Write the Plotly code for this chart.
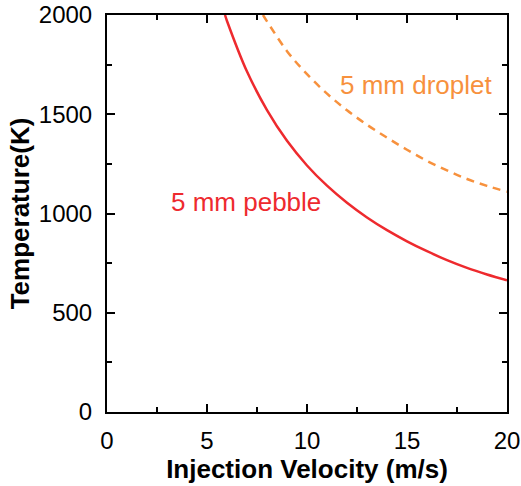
import plotly.graph_objects as go

# values
pebble_v = [5.9, 6, 7, 8, 9, 10, 11, 12, 13, 14, 15, 16, 17, 18, 19, 20]
pebble_T = [2000, 1970, 1715, 1521, 1366, 1242, 1140, 1054, 980, 916, 860, 810, 765, 726, 693, 664]

droplet_v = [7.8, 8, 9, 10, 11, 12, 13, 14, 15, 16, 17, 18, 19, 20]
droplet_T = [2000, 1968, 1818, 1702, 1604, 1520, 1447, 1382, 1321, 1265, 1217, 1174, 1139, 1110]

x_ticks = [0, 5, 10, 15, 20]
y_ticks = [0, 500, 1000, 1500, 2000]

red = '#EE2A2E'
orange = '#F7913D'
font = 'Liberation Sans'

fig = go.Figure()

# pebble curve
fig.add_trace(go.Scatter(x=pebble_v, y=pebble_T, mode='lines',
                         line=dict(color=red, width=2.5, shape='spline'),
                         showlegend=False, hoverinfo='skip'))

# droplet curve (dashed)
fig.add_trace(go.Scatter(x=droplet_v, y=droplet_T, mode='lines',
                         line=dict(color=orange, width=2.5, dash='8px,6px', shape='spline'),
                         showlegend=False, hoverinfo='skip'))

# curve labels
fig.add_annotation(x=6.95, y=1060, text='5 mm pebble', showarrow=False,
                   font=dict(family=font, size=26, color=red))
fig.add_annotation(x=15.45, y=1645, text='5 mm droplet', showarrow=False,
                   font=dict(family=font, size=26, color=orange))

axis_common = dict(
    showline=True, linecolor='black', linewidth=2, mirror='ticks',
    ticks='inside', ticklen=8, tickwidth=2, tickcolor='black',
    showgrid=False, zeroline=False, automargin=False,
    tickfont=dict(family=font, size=24, color='black'),
)

fig.update_xaxes(range=[0, 20], tickvals=x_ticks, ticklabelstandoff=6,
                 minor=dict(dtick=2.5, ticks='inside', ticklen=5, tickwidth=2, tickcolor='black'),
                 title=dict(text='<b>Injection Velocity (m/s)</b>', standoff=2,
                            font=dict(family=font, size=26, color='black')),
                 **axis_common)
fig.update_yaxes(range=[0, 2000], tickvals=y_ticks, ticklabelstandoff=8,
                 minor=dict(dtick=250, ticks='inside', ticklen=5, tickwidth=2, tickcolor='black'),
                 title=dict(text='<b>Temperature(K)</b>', standoff=2,
                            font=dict(family=font, size=26, color='black')),
                 **axis_common)

fig.update_layout(
    width=521, height=486,
    margin=dict(l=107, r=14, t=15, b=74),
    plot_bgcolor='white', paper_bgcolor='white',
)

# drop the default page margin so the figure sits at the window's corner
fig.write_html("out.html", config={'displayModeBar': False},
               post_script="document.body.style.margin='0px';")
